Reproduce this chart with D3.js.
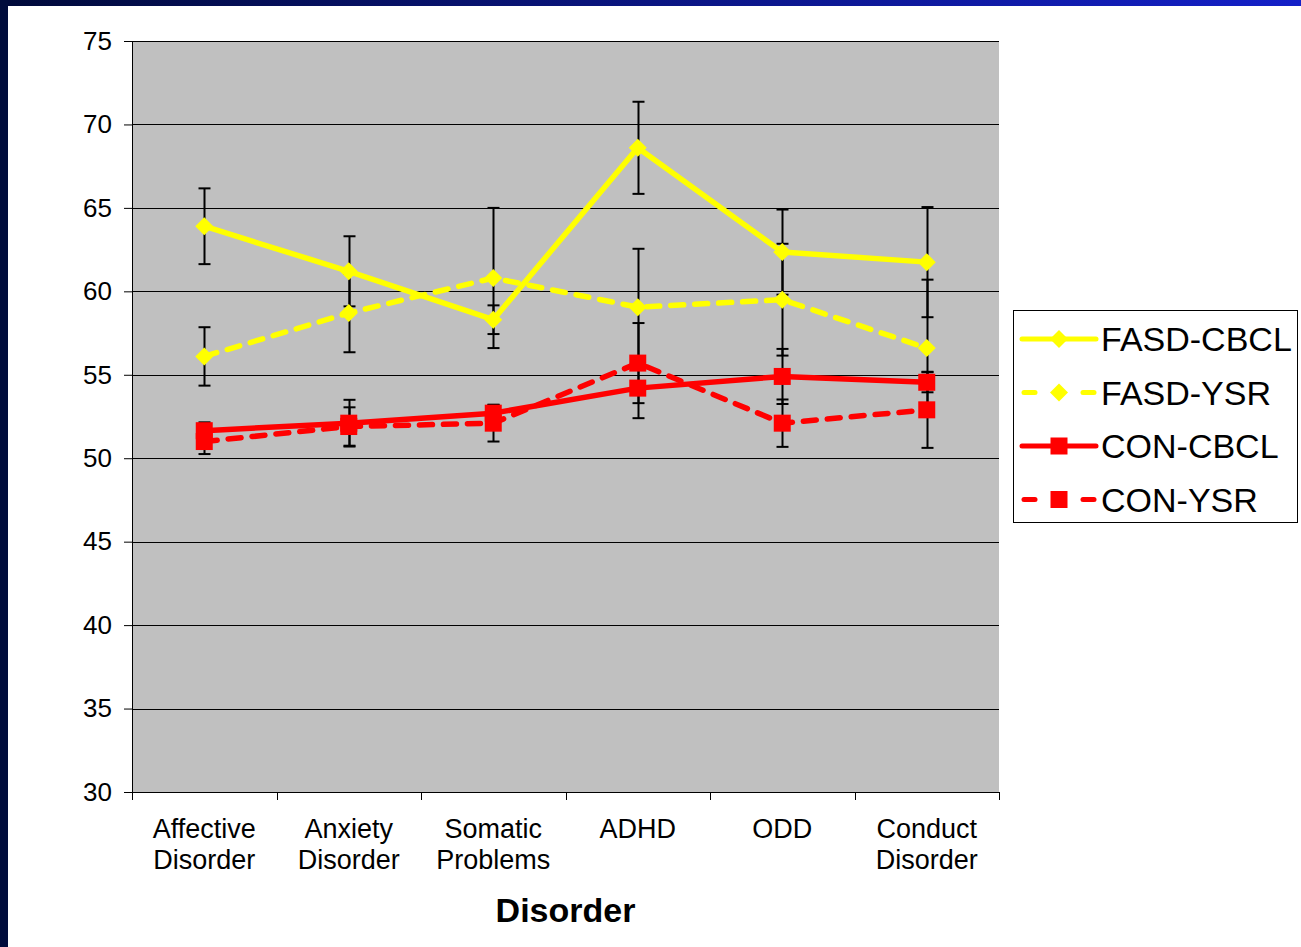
<!DOCTYPE html>
<html>
<head>
<meta charset="utf-8">
<script src="https://cdn.jsdelivr.net/npm/d3@7"></script>
<style>
  body { margin: 0; background: #fff; }
  svg { display: block; font-family: "Liberation Sans", Arial, sans-serif; }
</style>
</head>
<body>
<div id="chart"></div>
<script>
// categories and tick values
const categories = ["Affective Disorder", "Anxiety Disorder", "Somatic Problems", "ADHD", "ODD", "Conduct Disorder"];
const yTicks = [30, 35, 40, 45, 50, 55, 60, 65, 70, 75];

// series means and error (+/-)
const fasdCbcl = [63.9, 61.2, 58.3, 68.6, 62.35, 61.75];
const fasdCbclErr = [2.27, 2.1, 0.86, 2.76, 2.55, 3.3];
const fasdYsr = [56.1, 58.7, 60.8, 59.05, 59.5, 56.6];
const fasdYsrErr = [1.75, 2.35, 4.2, 3.5, 3.35, 4.1];
const conCbcl = [51.65, 52.1, 52.7, 54.2, 54.9, 54.55];
const conCbclErr = [0.5, 1.4, 0.5, 1.8, 1.65, 0.6];
const conYsr = [51.0, 51.9, 52.1, 55.7, 52.1, 52.9];
const conYsrErr = [0.75, 1.15, 1.1, 2.4, 1.42, 2.28];

const seriesNames = ["FASD-CBCL", "FASD-YSR", "CON-CBCL", "CON-YSR"];

const W = 1301, H = 947;
const margin = {top: 41, left: 132, right: 302, bottom: 155};
const pw = W - margin.left - margin.right;   // 867
const ph = H - margin.top - margin.bottom;   // 751

const svg = d3.select("#chart").append("svg")
    .attr("width", W)
    .attr("height", H);

// slide frame: gradient strip on top, dark strip left
const defs = svg.append("defs");
const grad = defs.append("linearGradient").attr("id", "topbar");
grad.append("stop").attr("offset", "0%").attr("stop-color", "#000a3a");
grad.append("stop").attr("offset", "100%").attr("stop-color", "#1420c8");
svg.append("rect").attr("x", 0).attr("y", 0).attr("width", W).attr("height", 6).attr("fill", "url(#topbar)");
svg.append("rect").attr("x", 0).attr("y", 0).attr("width", 8).attr("height", H).attr("fill", "#000c3c");

const g = svg.append("g")
    .attr("transform", "translate(" + margin.left + "," + margin.top + ")");

const x = d3.scaleBand()
    .domain(categories)
    .range([0, pw]);

const y = d3.scaleLinear()
    .domain([30, 75])
    .range([ph, 0]);

const cx = function(i) { return x(categories[i]) + x.bandwidth() / 2; };

// plot area
g.append("rect")
    .attr("width", pw)
    .attr("height", ph)
    .attr("fill", "#c0c0c0");

// gridlines
g.selectAll("line.grid")
    .data(yTicks.filter(function(d) { return d > 30; }))
    .enter().append("line")
    .attr("class", "grid")
    .attr("x1", 0).attr("x2", pw)
    .attr("y1", function(d) { return Math.round(y(d)) + 0.5; })
    .attr("y2", function(d) { return Math.round(y(d)) + 0.5; })
    .attr("stroke", "#000")
    .attr("stroke-width", 1);

// y axis
const yAxis = g.append("g")
    .call(d3.axisLeft(y).tickValues(yTicks).tickSize(8).tickPadding(12));
yAxis.select(".domain").attr("stroke", "#000");
yAxis.selectAll("text").attr("font-size", 26).attr("fill", "#000").attr("font-family", "'Liberation Sans', Arial, sans-serif");

// x axis with ticks at band edges
const xAxisG = g.append("g").attr("transform", "translate(0," + ph + ")");
xAxisG.append("line").attr("x1", 0).attr("x2", pw).attr("y1", 0.5).attr("y2", 0.5).attr("stroke", "#000");
xAxisG.selectAll("line.xt")
    .data(d3.range(categories.length + 1))
    .enter().append("line")
    .attr("class", "xt")
    .attr("x1", function(i) { return Math.round(i * x.bandwidth()) + 0.5; })
    .attr("x2", function(i) { return Math.round(i * x.bandwidth()) + 0.5; })
    .attr("y1", 0).attr("y2", 8)
    .attr("stroke", "#000");

const xl = xAxisG.selectAll("text.xl")
    .data(categories)
    .enter().append("text")
    .attr("class", "xl")
    .attr("text-anchor", "middle")
    .attr("font-size", 27)
    .attr("fill", "#000")
    .attr("transform", function(d) { return "translate(" + (x(d) + x.bandwidth() / 2) + ",0)"; });
xl.each(function(d) {
    const words = d.split(" ");
    const t = d3.select(this);
    words.forEach(function(w, k) {
        t.append("tspan").attr("x", 0).attr("y", 46 + k * 31).text(w);
    });
});

// axis title
svg.append("text")
    .attr("x", margin.left + pw / 2)
    .attr("y", 922)
    .attr("text-anchor", "middle")
    .attr("font-size", 34)
    .attr("font-weight", "bold")
    .attr("fill", "#000")
    .text("Disorder");

const series = [
    {name: seriesNames[0], vals: fasdCbcl, err: fasdCbclErr, color: "#ffff00", dash: null, marker: "diamond"},
    {name: seriesNames[1], vals: fasdYsr, err: fasdYsrErr, color: "#ffff00", dash: "13 11", marker: "diamond"},
    {name: seriesNames[2], vals: conCbcl, err: conCbclErr, color: "#ff0000", dash: null, marker: "square"},
    {name: seriesNames[3], vals: conYsr, err: conYsrErr, color: "#ff0000", dash: "13 11", marker: "square"}
];

// error bars
series.forEach(function(s) {
    const eb = g.append("g").attr("class", "errbars");
    s.vals.forEach(function(v, i) {
        const px = Math.round(cx(i)) + 0.5;
        eb.append("line")
            .attr("x1", px).attr("x2", px)
            .attr("y1", y(v + s.err[i])).attr("y2", y(v - s.err[i]))
            .attr("stroke", "#000").attr("stroke-width", 2);
        [v + s.err[i], v - s.err[i]].forEach(function(e) {
            eb.append("line")
                .attr("x1", px - 6).attr("x2", px + 6)
                .attr("y1", y(e)).attr("y2", y(e))
                .attr("stroke", "#000").attr("stroke-width", 2);
        });
    });
});

const line = d3.line()
    .x(function(d, i) { return cx(i); })
    .y(function(d) { return y(d); });

function drawMarker(sel, type, color, px, py) {
    if (type === "diamond") {
        sel.append("path")
            .attr("d", "M" + px + "," + (py - 9) + "L" + (px + 9) + "," + py + "L" + px + "," + (py + 9) + "L" + (px - 9) + "," + py + "Z")
            .attr("fill", color);
    } else {
        sel.append("rect")
            .attr("x", px - 8.5).attr("y", py - 8.5)
            .attr("width", 17).attr("height", 17)
            .attr("fill", color);
    }
}

// draw order: CON first, FASD on top, matching the picture
[3, 2, 1, 0].forEach(function(k) {
    const s = series[k];
    const sg = g.append("g").attr("class", "series");
    sg.append("path")
        .datum(s.vals)
        .attr("d", line)
        .attr("fill", "none")
        .attr("stroke", s.color)
        .attr("stroke-width", 5.5)
        .attr("stroke-linecap", s.dash ? "round" : "butt")
        .attr("stroke-linejoin", "round")
        .attr("stroke-dasharray", s.dash);
    s.vals.forEach(function(v, i) {
        drawMarker(sg, s.marker, s.color, cx(i), y(v));
    });
});

// legend
const lg = svg.append("g").attr("transform", "translate(1013,310)");
lg.append("rect")
    .attr("x", 0.5).attr("y", 0.5)
    .attr("width", 284).attr("height", 212)
    .attr("fill", "#fff")
    .attr("stroke", "#000")
    .attr("stroke-width", 1);
series.forEach(function(s, k) {
    const ry = 29 + k * 53.5;
    const row = lg.append("g");
    if (s.dash) {
        row.append("line").attr("x1", 11).attr("x2", 22).attr("y1", ry).attr("y2", ry)
            .attr("stroke", s.color).attr("stroke-width", 5).attr("stroke-linecap", "round");
        row.append("line").attr("x1", 70).attr("x2", 81).attr("y1", ry).attr("y2", ry)
            .attr("stroke", s.color).attr("stroke-width", 5).attr("stroke-linecap", "round");
    } else {
        row.append("line").attr("x1", 9).attr("x2", 83).attr("y1", ry).attr("y2", ry)
            .attr("stroke", s.color).attr("stroke-width", 5).attr("stroke-linecap", "round");
    }
    drawMarker(row, s.marker, s.color, 46, ry);
    row.append("text")
        .attr("x", 88).attr("y", ry + 12)
        .attr("font-size", 34)
        .attr("fill", "#000")
        .text(s.name);
});
</script>
</body>
</html>
